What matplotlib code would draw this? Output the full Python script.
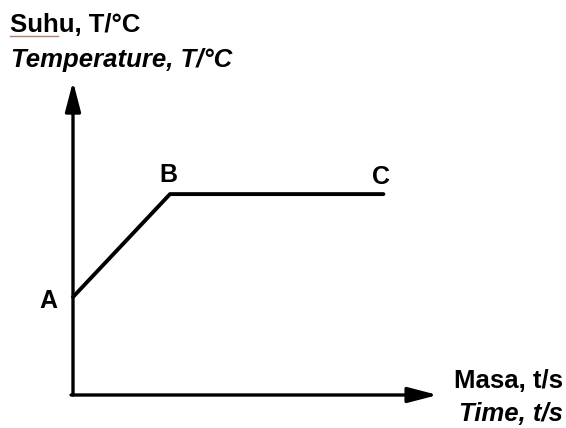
import matplotlib.pyplot as plt

# schematic heating curve A -> B -> C (arbitrary units)
time = [0.0, 1.0, 3.2]
temp = [1.0, 2.05, 2.05]
points = ["A", "B", "C"]
label_offsets = [(-18, -3), (-1.5, 13.5), (-1.5, 12)]

plt.rcParams['font.family'] = ['Liberation Sans', 'DejaVu Sans']
plt.rcParams['font.weight'] = 'bold'

fig = plt.figure(figsize=(5.66, 4.28), dpi=100)
ax = fig.add_axes([0, 0, 1, 1])
ax.set_xlim(-73 / 97, 493 / 97)
ax.set_ylim(-33 / 98, 395 / 98)
ax.axis('off')

# axes with arrows
arrow = dict(arrowstyle='-|>,head_length=1.0,head_width=0.26', lw=2.4,
             color='black', mutation_scale=18, shrinkA=0, shrinkB=0)
ax.annotate('', xy=(0, 3.2), xytext=(0, 0), arrowprops=arrow)
ax.annotate('', xy=(3.76, 0), xytext=(-0.02, 0), arrowprops=arrow)

# curve
ax.plot(time, temp, color='black', lw=2.8, solid_capstyle='round',
        solid_joinstyle='round')

for t, T, name, off in zip(time, temp, points, label_offsets):
    ax.annotate(name, (t, T), xytext=off, textcoords='offset points',
                ha='center', va='center', fontsize=18)

# axis titles
fig.text(10 / 566, 1 - 32 / 428, 'Suhu, T/\u00b0C', fontsize=18.5, va='baseline')
fig.text(11 / 566, 1 - 67 / 428, 'Temperature, T/\u00b0C', fontsize=18.5,
         style='italic', va='baseline')
fig.text(563 / 566, 1 - 388 / 428, 'Masa, t/s', fontsize=18.5, ha='right',
         va='baseline')
fig.text(563 / 566, 1 - 421 / 428, 'Time, t/s', fontsize=18.5, ha='right',
         style='italic', va='baseline')

# spell-check squiggle under "Suhu"
ax.plot([(10 - 73) / 97, (58 - 73) / 97], [(395 - 36) / 98] * 2,
        color='#b08070', lw=1)

fig.savefig('out.png', dpi=100)
